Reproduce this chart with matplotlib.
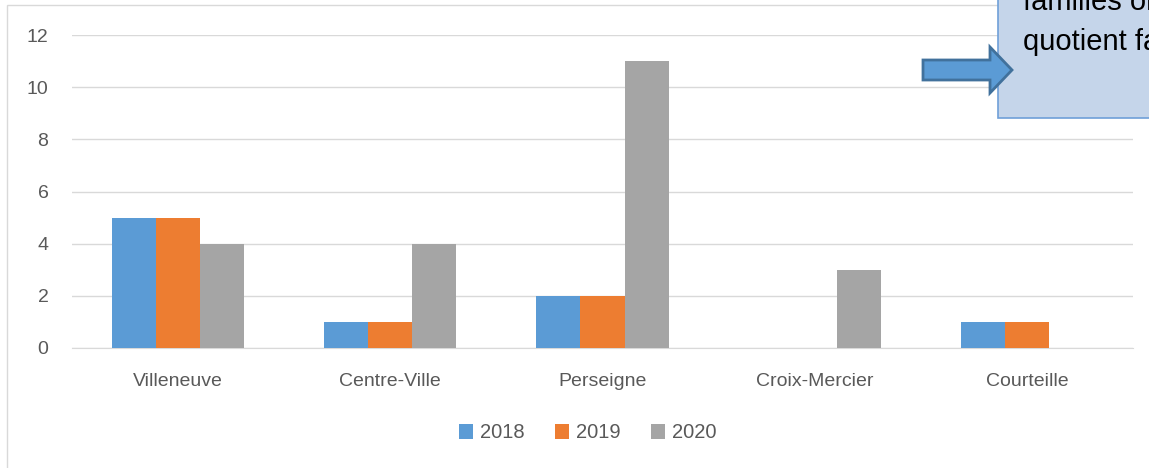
import matplotlib
matplotlib.use("Agg")
import matplotlib.pyplot as plt
from matplotlib.patches import Rectangle, FancyArrow
import numpy as np

categories = ["Villeneuve", "Centre-Ville", "Perseigne", "Croix-Mercier", "Courteille"]
series_names = ["2018", "2019", "2020"]
v2018 = [5, 1, 2, 0, 1]
v2019 = [5, 1, 2, 0, 1]
v2020 = [4, 4, 11, 3, 0]
yticks = [0, 2, 4, 6, 8, 10, 12]
colors = ["#5B9BD5", "#ED7D31", "#A5A5A5"]

plt.rcParams['font.family'] = ['Liberation Sans', 'DejaVu Sans']

fig = plt.figure(figsize=(11.49, 4.68), dpi=100)
W, H = 1149, 468

# chart area border
fig.patches.append(Rectangle((7 / W, -0.1), 1.2, 1 - 5 / H + 0.1, transform=fig.transFigure,
                             fill=False, edgecolor="#D9D9D9", linewidth=1.0, zorder=0))

ax = fig.add_axes([72 / W, 1 - 348 / H, (1133 - 72) / W, (348 - 35) / H])
x = np.arange(len(categories))
bw = 44 / 212
for i, (vals, name) in enumerate(zip([v2018, v2019, v2020], series_names)):
    ax.bar(x + (i - 1) * bw, vals, width=bw, color=colors[i], label=name, zorder=3)

ax.set_xlim(-0.5, len(categories) - 0.5)
ax.set_ylim(0, 12)
ax.set_yticks(yticks)
ax.set_xticks(x)
ax.set_xticklabels(categories)
ax.tick_params(axis='both', length=0, colors="#595959", labelsize=14)
ax.tick_params(axis='y', pad=17)
ax.tick_params(axis='x', pad=18)
ax.grid(axis='y', color="#D9D9D9", linewidth=1.0, zorder=0)
for s in ["top", "right", "left"]:
    ax.spines[s].set_visible(False)
ax.spines["bottom"].set_color("#D9D9D9")
ax.set_facecolor("none")

leg = fig.legend(loc="center", bbox_to_anchor=(588 / W, 1 - 433 / H), ncol=3, frameon=False,
                 fontsize=14.5, handlelength=0.7, handleheight=0.7, handletextpad=0.35,
                 columnspacing=1.5)
for t in leg.get_texts():
    t.set_color("#595959")

# callout box
fig.patches.append(Rectangle((998 / W, 1 - 118 / H), 0.2, 0.5, transform=fig.transFigure,
                             facecolor="#C5D5EA", edgecolor="#6FA0D8", linewidth=1.2, zorder=5))
fig.text(1023 / W, 1 - 10 / H, "familles ont", fontsize=21, color="#000000", va="baseline",
         ha="left", zorder=6)
fig.text(1023 / W, 1 - 50 / H, "quotient familial", fontsize=21, color="#000000", va="baseline",
         ha="left", zorder=6)

# block arrow
y0 = 1 - 70 / H
arrow = FancyArrow(923 / W, y0, (1012 - 923) / W, 0, width=20 / H, head_width=46 / H,
                   head_length=22 / W, length_includes_head=True, transform=fig.transFigure,
                   facecolor="#5B9BD5", edgecolor="#41719C", linewidth=2.0, zorder=7)
fig.patches.append(arrow)

fig.savefig("out.png", dpi=100)
